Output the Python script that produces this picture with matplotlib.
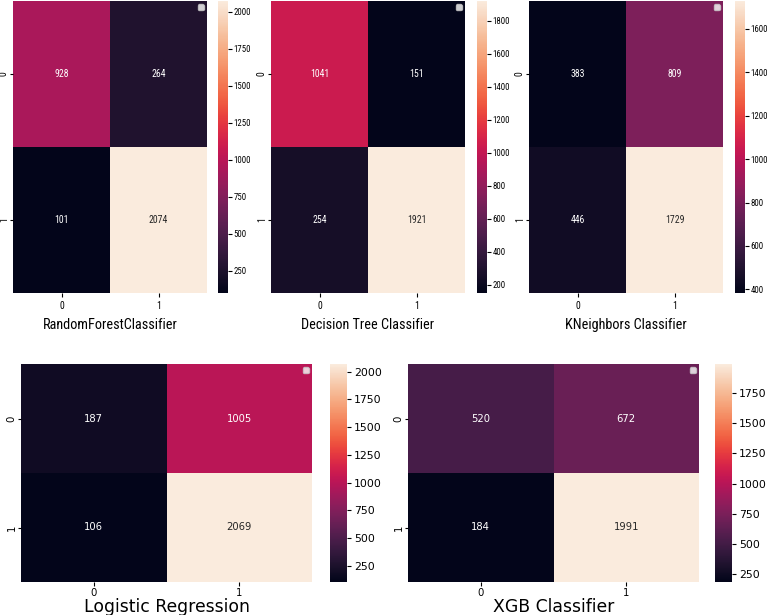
import numpy as np
import warnings
import matplotlib
matplotlib.use("Agg")
import matplotlib.pyplot as plt
from matplotlib import font_manager
from matplotlib.font_manager import FontProperties
from matplotlib.ticker import MultipleLocator
import seaborn as sns

# ---- data ----
titles = ["RandomForestClassifier", "Decision Tree Classifier", "KNeighbors Classifier",
          "Logistic Regression", "XGB Classifier"]
class_labels = ["0", "1"]
cm_rf = [[928, 264], [101, 2074]]
cm_dt = [[1041, 151], [254, 1921]]
cm_knn = [[383, 809], [446, 1729]]
cm_lr = [[187, 1005], [106, 2069]]
cm_xgb = [[520, 672], [184, 1991]]
cbar_steps = [250, 200, 200, 250, 250]

# ---- fonts: a narrower face for the (horizontally squeezed) top row ----
names = {f.name for f in font_manager.fontManager.ttflist}
if "Roboto Condensed" in names:
    top_fp = dict(family="Roboto Condensed")
elif "Roboto" in names:
    top_fp = dict(family="Roboto")
else:
    top_fp = dict(family="DejaVu Sans")
bot_fp = dict(family="DejaVu Sans")

W, H = 767, 615
fig = plt.figure(figsize=(W / 100, H / 100), dpi=100)

def box(l, t, r, b):
    return [l / W, (H - b) / H, (r - l) / W, (b - t) / H]

# axes box, cbar box, font, annot size, tick size, label size, cbar size, top row?
layout = [
    (box(13, 1, 207, 293), box(218, 1, 228, 293), top_fp, 7.0, 7.0, 10.3, 6.3, True),
    (box(271, 1, 465, 293), box(477, 1, 487, 293), top_fp, 7.0, 7.0, 10.3, 6.3, True),
    (box(529, 1, 723, 293), box(735, 1, 745, 293), top_fp, 7.0, 7.0, 10.3, 6.3, True),
    (box(21, 364, 312, 582), box(330, 364, 347, 582), bot_fp, 7.2, 7.3, 12.4, 7.8, False),
    (box(408, 364, 699, 582), box(715, 364, 732, 582), bot_fp, 7.2, 7.3, 12.4, 7.8, False),
]
mats = [cm_rf, cm_dt, cm_knn, cm_lr, cm_xgb]

for i, (m, title) in enumerate(zip(mats, titles)):
    axr, cbr, fp, afs, tfs, lfs, cfs, top = layout[i]
    ax = fig.add_axes(axr)
    cax = fig.add_axes(cbr)
    data = np.array(m)
    sns.heatmap(data, annot=True, fmt="d", ax=ax, cbar_ax=cax, cmap="rocket",
                xticklabels=class_labels, yticklabels=class_labels,
                annot_kws={"fontproperties": FontProperties(size=afs, **fp)})
    ax.set_xlabel(title, fontproperties=FontProperties(size=lfs, **fp),
                  labelpad=5 if top else 0)
    ax.tick_params(axis="x", length=3, pad=3 if top else 1)
    ax.tick_params(axis="y", length=2.5, pad=0.5)
    for t in ax.get_xticklabels():
        t.set_fontproperties(FontProperties(size=tfs, **fp))
        t.set_rotation(0)
    for t in ax.get_yticklabels():
        t.set_fontproperties(FontProperties(size=tfs, **fp))
        t.set_rotation(90)
        t.set_va("center")
    cax.yaxis.set_major_locator(MultipleLocator(cbar_steps[i]))
    cax.tick_params(length=3, pad=1 if top else 2)
    fig.canvas.draw()
    for t in cax.get_yticklabels():
        t.set_fontproperties(FontProperties(size=cfs, **fp))
    with warnings.catch_warnings():
        warnings.simplefilter("ignore")
        ax.legend(loc="upper right", fontsize=5)

fig.savefig("out.png", dpi=100)
